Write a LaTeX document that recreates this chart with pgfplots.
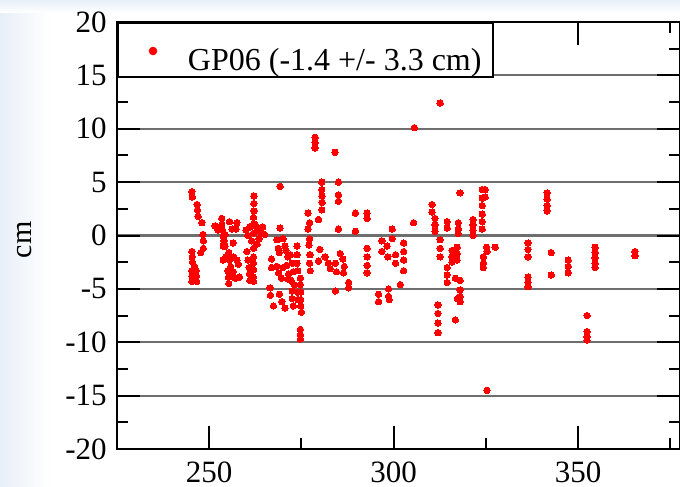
\documentclass[border=0pt]{standalone}
\usepackage{pgfplots}
\pgfplotsset{compat=1.18}
\usepackage{fontspec}
\setmainfont{Liberation Serif}
\definecolor{gridgray}{HTML}{6E6E6E}
\definecolor{bgblue}{HTML}{E8EFF8}
\pgfplotstableread{
x y
245.3 4.1
245.4 3.6
246.7 2.9
246.8 2.4
247.0 1.8
248.0 1.2
248.3 0.1
248.4 -0.5
248.4 -1.2
247.7 -1.6
245.3 -1.5
245.4 -2.0
245.5 -2.5
246.0 -2.9
245.3 -3.3
245.3 -3.8
245.3 -4.3
246.5 -3.3
246.5 -3.8
246.6 -4.3
251.6 0.9
252.4 0.5
253.4 1.6
253.4 1.0
253.6 0.5
253.8 -0.1
254.0 -0.5
254.3 0.1
254.3 -1.0
254.5 -2.0
253.8 -1.0
253.8 -2.3
255.5 1.3
256.2 0.6
257.5 1.2
257.3 0.6
256.5 -0.7
255.3 -1.6
255.5 -2.3
255.8 -2.9
256.5 -3.4
256.6 -2.0
257.5 -2.3
257.9 -2.7
256.4 -3.9
255.1 -3.3
255.2 -3.9
255.3 -4.5
257.2 -4.0
258.2 -3.9
260.2 -1.5
260.5 -2.3
260.8 -3.0
260.9 -3.6
261.0 -4.2
262.0 -1.2
262.0 -2.0
262.0 -2.6
262.0 -3.2
262.0 -3.9
262.0 -4.3
262.1 3.7
262.1 3.0
262.1 2.3
262.0 1.7
262.1 1.1
260.0 0.5
261.0 0.8
262.0 0.2
263.0 0.7
264.0 0.3
265.0 0.1
263.5 -0.3
261.5 -0.5
260.5 0.0
262.5 1.0
264.5 0.8
263.0 -0.8
269.2 4.6
269.2 0.7
266.9 -2.2
266.9 -3.0
266.5 -4.9
266.6 -5.6
267.4 -6.6
268.3 -0.4
268.7 -1.2
269.0 -1.6
268.3 -2.9
268.8 -3.5
269.6 -4.0
270.0 -3.0
269.0 -5.5
269.7 -6.2
270.5 -6.8
270.0 -0.3
270.5 -1.0
270.8 -1.4
271.3 -2.0
271.0 -2.8
271.5 -3.6
271.4 -4.1
272.0 -1.8
272.5 -2.6
272.8 -3.4
272.2 -4.2
273.0 -4.6
272.5 -5.2
272.5 -5.9
272.8 -6.6
273.8 -1.0
273.8 -1.8
273.8 -2.6
274.0 -3.3
274.7 -4.0
274.7 -4.6
274.8 -5.3
274.8 -6.0
274.8 -6.6
275.0 -7.2
274.7 -8.8
274.7 -9.3
274.7 -9.7
273.9 -5.3
274.0 -6.0
276.8 2.1
277.2 1.2
276.8 0.6
277.2 -0.3
277.0 -0.9
277.3 -1.8
277.2 -2.6
277.4 -3.3
279.6 1.5
280.0 -1.3
279.6 -2.4
280.5 5.0
280.5 4.3
280.6 3.7
280.6 3.1
280.5 2.4
278.7 9.2
278.7 8.7
278.7 8.2
284.1 7.8
281.4 -2.0
282.3 -2.6
282.8 -3.1
284.2 -2.6
284.5 -3.4
285.0 5.0
285.0 3.8
285.0 3.2
285.0 0.6
285.5 -1.7
286.2 -2.2
286.6 -2.9
286.4 -3.5
284.2 -5.2
287.8 -4.9
287.8 -4.4
289.6 2.1
289.6 0.4
292.8 2.1
292.8 1.6
292.8 -1.2
292.8 -2.0
292.8 -2.8
292.8 -3.5
295.9 -5.5
295.9 -6.2
296.8 -0.5
296.8 -1.5
298.6 -5.0
298.6 -5.7
298.8 -6.0
298.2 -1.0
298.4 -2.0
299.6 0.6
299.6 -0.3
300.5 -1.8
300.5 -2.6
301.8 -4.6
302.7 -0.7
302.7 -1.5
302.7 -2.3
302.7 -3.3
305.4 1.2
305.6 10.1
312.6 12.4
318.0 4.0
310.4 2.9
310.4 2.2
311.2 1.6
311.2 1.0
311.2 0.4
314.5 1.3
314.5 0.7
317.5 1.2
317.5 0.6
317.5 0.2
321.5 1.5
321.5 1.0
321.5 0.5
321.5 0.0
324.0 4.3
324.0 3.5
324.0 2.8
324.0 2.0
324.0 1.3
324.0 0.6
324.8 4.3
324.8 3.6
312.6 -0.4
312.6 -1.2
312.6 -2.0
314.5 -3.0
314.5 -3.7
314.5 -4.4
315.8 -1.4
315.8 -2.0
315.8 -2.5
317.2 -1.1
317.2 -1.7
317.2 -2.3
318.0 -4.2
318.0 -5.1
318.0 -5.7
318.0 -6.2
317.3 -5.9
316.7 -4.0
312.0 -6.5
312.0 -7.3
312.0 -8.2
312.0 -9.1
316.7 -7.9
325.3 -14.5
324.3 -2.0
324.3 -2.6
324.3 -3.0
325.2 -1.1
325.3 -1.5
327.5 -1.1
336.4 -0.7
336.4 -1.3
336.4 -2.0
336.4 -3.9
336.4 -4.4
336.4 -4.8
341.6 4.0
341.6 3.4
341.6 2.8
341.6 2.3
342.7 -1.6
342.7 -3.7
347.3 -2.3
347.3 -2.9
347.3 -3.5
354.6 -1.1
354.6 -1.6
354.6 -2.1
354.6 -2.6
354.6 -3.0
365.4 -1.5
365.4 -1.9
352.4 -7.5
352.4 -9.0
352.4 -9.5
352.4 -9.8
}\gpsdata
\begin{document}
\begin{tikzpicture}
\useasboundingbox (0,0) rectangle (340pt,243.5pt);
\shade[left color=bgblue, right color=white] (0,0) rectangle (25pt,243.5pt);
\shade[top color=bgblue, bottom color=white] (0,243.5pt) rectangle (340pt,237pt);
\begin{axis}[
  at={(58.5pt,19pt)}, anchor=south west,
  scale only axis, width=281.5pt, height=213.5pt,
  xmin=225, xmax=377.6, ymin=-20, ymax=20,
  xtick={250,300,350}, minor xtick={275,325,375},
  ytick={-20,-15,...,20},
  yticklabels={-20,-15,-10,-5,0,5,10,15,20},
  minor ytick={-17.5,-12.5,...,17.5},
  xticklabels={250,300,350},
  tick align=inside,
  major tick length=11.5pt, minor tick length=5.5pt,
  every tick/.style={black, line width=1pt},
  axis line style={line width=1pt},
  ymajorgrids,
  major grid style={gridgray, line width=1.1pt},
  ticklabel style={font=\fontsize{15.5}{15.5}\selectfont},
  xticklabel style={inner sep=0pt, yshift=-6pt},
  yticklabel style={inner sep=0pt, xshift=-5pt},
  ylabel={cm},
  ylabel style={font=\fontsize{15}{15}\selectfont, at={(axis description cs:-0.165,0.49)}, anchor=center},
  legend style={at={(0,1)}, anchor=north west, draw=black, line width=1pt, fill=white,
    inner xsep=0pt, inner ysep=0pt, nodes={inner sep=0pt},
    font=\fontsize{16}{16}\selectfont},
  legend image code/.code={
    \path[draw=none, fill=none] (-17.5pt,-8pt) rectangle (17.5pt,19pt);
    \fill[red] (0pt,5pt) circle (1.6pt);
  },
]
\addplot[only marks, color=red, mark=*, mark size=1.6pt, mark options={draw=red, fill=red, line width=0pt}] table[x=x,y=y]{\gpsdata};
\addlegendentry{\makebox[152.5pt][l]{GP06 (-1.4 +/- 3.3 cm)}}
\end{axis}
\end{tikzpicture}
\end{document}
